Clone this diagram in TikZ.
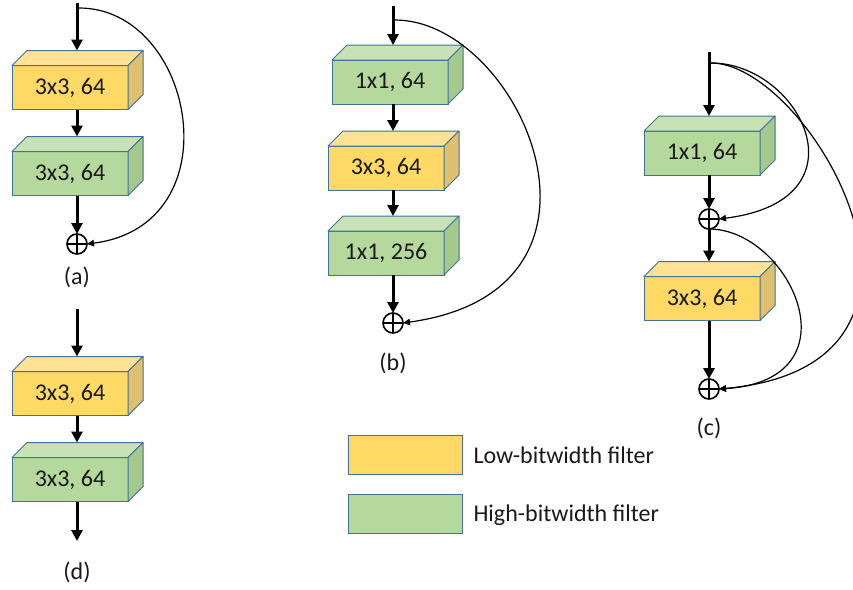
\documentclass[tikz,border=0pt]{standalone}
\usepackage{fontspec}
\setmainfont{Carlito}
\usetikzlibrary{arrows.meta}
\definecolor{yfront}{HTML}{FFD966}
\definecolor{ytop}{HTML}{FFE294}
\definecolor{yside}{HTML}{DEC06E}
\definecolor{gfront}{HTML}{B5D99C}
\definecolor{gtop}{HTML}{C7E2B5}
\definecolor{gside}{HTML}{A3C98D}
\definecolor{edge}{HTML}{41719C}
\tikzset{
  front/.style={draw=edge, line width=1pt, minimum width=116pt, minimum height=44pt,
    inner sep=0pt, outer sep=0pt, font=\fontsize{24}{28}\selectfont, text=black!90},
  face/.style={draw=edge, line width=1pt, line join=round},
  arr/.style={line width=3pt, -{Triangle[length=11pt,width=11pt]}},
  skip/.style={line width=1.2pt, -{Triangle[length=7pt,width=6.5pt]}},
  sum/.style={circle, draw, line width=1.6pt, minimum size=20pt, inner sep=0pt, outer sep=0pt,
    path picture={\draw[line width=1.6pt] (path picture bounding box.north) -- (path picture bounding box.south)
      (path picture bounding box.west) -- (path picture bounding box.east);}},
  lab/.style={font=\fontsize{24}{28}\selectfont, text=black!90},
  legbox/.style={draw=edge, line width=1pt, minimum width=114pt, minimum height=39pt, inner sep=0pt}
}
\newcommand\cube[5]{%
  \node[front, fill=#4front] (#1) at (#2,#3) {#5};
  \filldraw[face, fill=#4top] (#1.north west) -- ++(15pt,15pt) -- ([shift={(15pt,15pt)}]#1.north east) -- (#1.north east) -- cycle;
  \filldraw[face, fill=#4side] (#1.north east) -- ++(15pt,15pt) -- ([shift={(15pt,15pt)}]#1.south east) -- (#1.south east) -- cycle;
  \coordinate (#1-in) at ([yshift=15pt]#1.north);
}
\begin{document}
\begin{tikzpicture}[x=1pt,y=-1pt]
\useasboundingbox (0,0) rectangle (853,589);
% ---------- (a)
\coordinate (ain) at (77,3);
\coordinate (askip) at (79,8);
\cube{a1}{70}{87.5}{y}{3x3, 64}
\cube{a2}{70}{173.5}{g}{3x3, 64}
\node[sum] (sa) at (77,244) {};
\draw[arr] (ain) -- (ain |- a1-in);
\draw[arr] (ain |- a1.south) -- (ain |- a2-in);
\draw[arr] (ain |- a2.south) -- (sa.north);
\draw[skip] (askip) .. controls (195,8) and (235,225) .. (sa.east);
\node[lab] (la) at (77,277) {(a)};
% ---------- (b)
\coordinate (bin) at (393,6);
\coordinate (bskip) at (395,20);
\cube{b1}{390}{82}{g}{1x1, 64}
\cube{b2}{386}{168}{y}{3x3, 64}
\cube{b3}{386}{253}{g}{1x1, 256}
\node[sum] (sb) at (393,323) {};
\draw[arr] (bin) -- (bin |- b1-in);
\draw[arr] (bin |- b1.south) -- (bin |- b2-in);
\draw[arr] (bin |- b2.south) -- (bin |- b3-in);
\draw[arr] (bin |- b3.south) -- (sb.north);
\draw[skip] (bskip) .. controls (520,20) and (640,290) .. (sb.east);
\node[lab] (lb) at (393,363) {(b)};
% ---------- (c)
\coordinate (cin) at (709,52);
\coordinate (cskip) at (711,63);
\cube{c1}{702}{153}{g}{1x1, 64}
\node[sum] (sc1) at (709,219) {};
\cube{c2}{702}{298.5}{y}{3x3, 64}
\node[sum] (sc2) at (709,389) {};
\draw[arr] (cin) -- (cin |- c1-in);
\draw[arr] (cin |- c1.south) -- (sc1.north);
\draw[arr] (sc1.south) -- (cin |- c2-in);
\draw[arr] (cin |- c2.south) -- (sc2.north);
\draw[skip] (cskip) .. controls (800,63) and (870,200) .. (sc1.east);
\draw[skip] (cskip) .. controls (810,63) and (985,365) .. (sc2.east);
\draw[skip] (sc1.south) .. controls (790,229) and (860,380) .. (sc2.east);
\node[lab] (lc) at (709,428) {(c)};
% ---------- (d)
\coordinate (din) at (77,309);
\cube{d1}{70}{393.5}{y}{3x3, 64}
\cube{d2}{70}{479.5}{g}{3x3, 64}
\coordinate (dout) at (77,541);
\draw[arr] (din) -- (din |- d1-in);
\draw[arr] (din |- d1.south) -- (din |- d2-in);
\draw[arr] (din |- d2.south) -- (dout);
\node[lab] (ld) at (77,572) {(d)};
% ---------- legend
\node[legbox, fill=yfront] (ly) at (405,454.5) {};
\node[legbox, fill=gfront] (lg) at (405,513.5) {};
\node[lab, anchor=west] (ty) at (470,455) {Low-bitwidth filter};
\node[lab, anchor=west] (tg) at (470,515) {High-bitwidth filter};
\end{tikzpicture}
\end{document}
